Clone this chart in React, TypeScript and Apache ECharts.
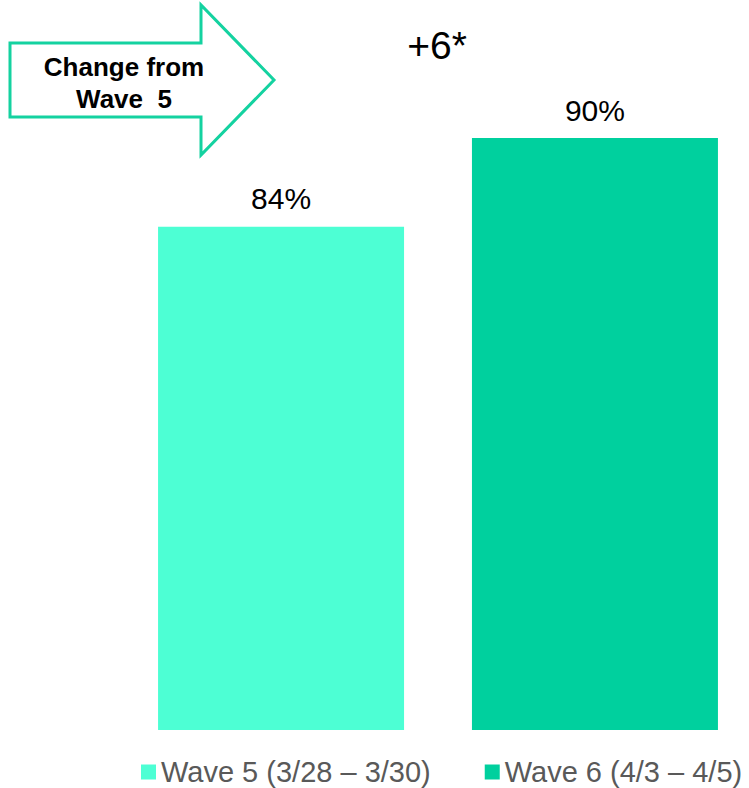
import React, { useEffect, useRef } from "react";
import * as echarts from "echarts";

// Survey waves and share of respondents (%)
const waves = ["Wave 5 (3/28 – 3/30)", "Wave 6 (4/3 – 4/5)"];
const shares = [84, 90];
const waveColors = ["#4DFFD4", "#00D09E"];
const changeNote = "*"; // significant change marker
const calloutLines = ["Change from", "Wave  5"];

const FONT = "Arial, 'Liberation Sans', Helvetica, sans-serif";

export default function App() {
  const ref = useRef<HTMLDivElement>(null);

  useEffect(() => {
    if (!ref.current) return;
    const chart = echarts.init(ref.current, undefined, { renderer: "svg" });
    const delta = shares[1] - shares[0];

    chart.setOption({
      animation: false,
      backgroundColor: "#ffffff",
      grid: { left: 128, width: 620, top: 138, height: 592 },
      xAxis: {
        type: "category",
        data: [""],
        show: false,
      },
      yAxis: { type: "value", min: 50, max: 90, show: false },
      legend: {
        data: waves,
        left: 141,
        top: 757,
        padding: 0,
        itemWidth: 15,
        itemHeight: 15,
        itemGap: 54,
        icon: "rect",
        textStyle: { fontFamily: FONT, fontSize: 29, color: "#595959", lineHeight: 30 },
      },
      series: waves.map((name, i) => ({
        name,
        type: "bar",
        data: [shares[i]],
        barWidth: 246,
        barGap: "27.6%",
        itemStyle: { color: waveColors[i] },
        label: {
          show: true,
          position: "top",
          distance: 13,
          formatter: "{c}%",
          fontFamily: FONT,
          fontSize: 30,
          color: "#000000",
        },
      })),
      graphic: [
        {
          type: "polygon",
          shape: {
            points: [
              [10, 43],
              [201, 43],
              [201, 5],
              [274, 80],
              [201, 155],
              [201, 117],
              [10, 117],
            ],
          },
          style: { fill: "#ffffff", stroke: "#14D2A0", lineWidth: 3 },
        },
        {
          type: "text",
          x: 124,
          y: 67,
          style: {
            text: calloutLines[0],
            fontFamily: FONT,
            fontWeight: "bold",
            fontSize: 26,
            fill: "#000000",
            align: "center",
            verticalAlign: "middle",
          },
        },
        {
          type: "text",
          x: 124,
          y: 99,
          style: {
            text: calloutLines[1],
            fontFamily: FONT,
            fontWeight: "bold",
            fontSize: 26,
            fill: "#000000",
            align: "center",
            verticalAlign: "middle",
          },
        },
        {
          type: "text",
          x: 437,
          y: 45,
          style: {
            text: `+${delta}${changeNote}`,
            fontFamily: FONT,
            fontSize: 39,
            fill: "#000000",
            align: "center",
            verticalAlign: "middle",
          },
        },
      ],
    });

    return () => chart.dispose();
  }, []);

  return (
    <div
      ref={ref}
      style={{ position: "absolute", left: 0, top: 0, width: 749, height: 788 }}
    />
  );
}
